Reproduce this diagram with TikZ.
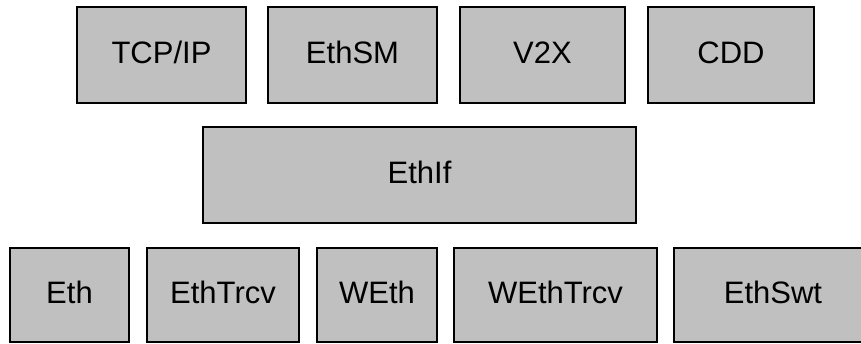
\documentclass[tikz,border=0pt]{standalone}
\usepackage{fontspec}
\setmainfont{Liberation Sans}
\definecolor{boxgray}{HTML}{C0C0C0}
\begin{document}
\begin{tikzpicture}[x=1pt,y=-1pt,
  mod/.style={draw=black, line width=1.4pt, fill=boxgray, inner sep=0pt,
    font=\fontsize{31}{31}\selectfont, text height=22.2pt, text depth=4.5pt}]
\useasboundingbox (0,0) rectangle (861,343);
\clip (0,0) rectangle (861,343);
% top row
\node[mod, minimum width=169pt, minimum height=96pt] (tcpip) at (161.5,55) {TCP/IP};
\node[mod, minimum width=169pt, minimum height=96pt] (ethsm) at (352.5,55) {EthSM};
\node[mod, minimum width=165pt, minimum height=96pt] (v2x) at (542.5,55) {V2X};
\node[mod, minimum width=166pt, minimum height=96pt] (cdd) at (731,55) {CDD};
% middle
\node[mod, minimum width=433pt, minimum height=96pt] (ethif) at (419.5,175) {EthIf};
% bottom row
\node[mod, minimum width=119pt, minimum height=94pt] (eth) at (69.5,295) {Eth};
\node[mod, minimum width=152pt, minimum height=94pt] (ethtrcv) at (223,295) {EthTrcv};
\node[mod, minimum width=120pt, minimum height=94pt] (weth) at (377,295) {WEth};
\node[mod, minimum width=203pt, minimum height=94pt] (wethtrcv) at (555.5,295) {WEthTrcv};
\node[mod, minimum width=198pt, minimum height=94pt] (ethswt) at (773,295) {EthSwt};
\end{tikzpicture}
\end{document}
